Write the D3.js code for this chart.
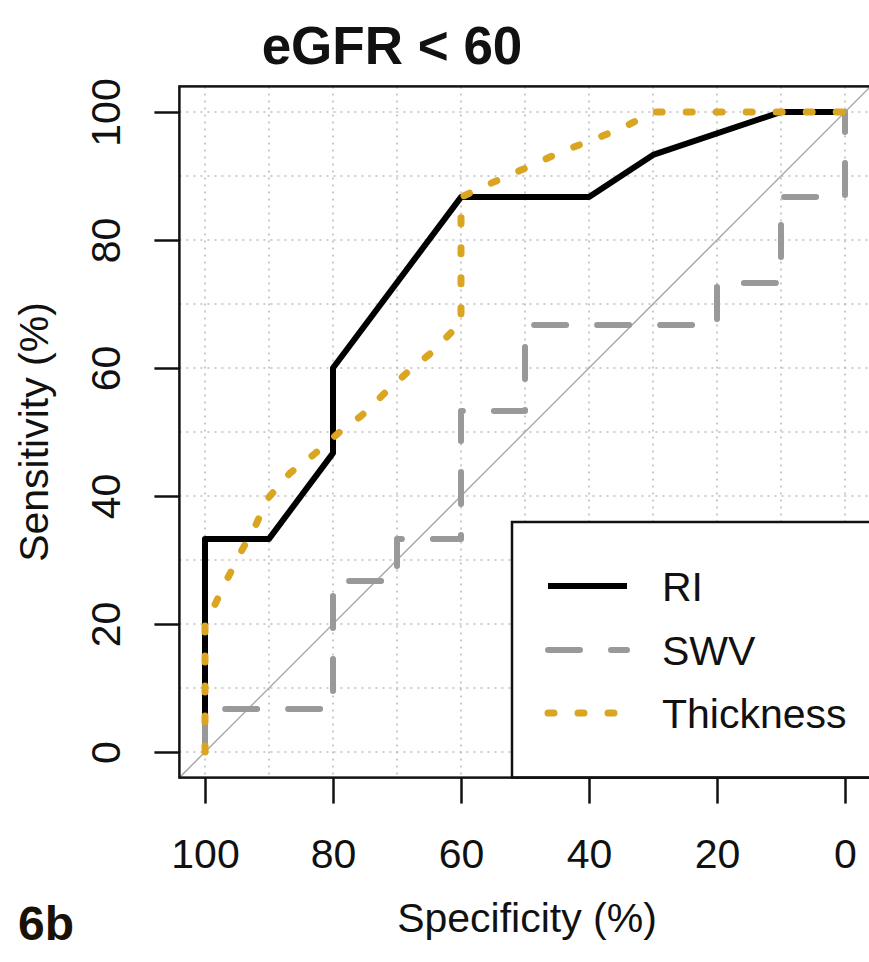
<!DOCTYPE html>
<html>
<head>
<meta charset="utf-8">
<script src="https://cdn.jsdelivr.net/npm/d3@7"></script>
<style>
  body { margin: 0; background: #fff; }
  svg { display: block; font-family: "Liberation Sans", Arial, Helvetica, sans-serif; }
</style>
</head>
<body>
<svg id="chart" width="869" height="962"></svg>
<script>
// tick labels and grid positions
const specTicks = [100, 80, 60, 40, 20, 0];
const sensTicks = [0, 20, 40, 60, 80, 100];
const gridVals = [0, 10, 20, 30, 40, 50, 60, 70, 80, 90, 100];

// RI curve (specificity %, sensitivity %)
const riSpec = [100, 100, 90, 80, 80, 60, 40, 30, 10, 0];
const riSens = [0, 33.3, 33.3, 46.7, 60, 86.7, 86.7, 93.3, 100, 100];

// SWV curve
const swvSpec = [100, 100, 80, 80, 70, 70, 60, 60, 50, 50, 20, 20, 10, 10, 0, 0];
const swvSens = [0, 6.7, 6.7, 26.7, 26.7, 33.3, 33.3, 53.3, 53.3, 66.7, 66.7, 73.3, 73.3, 86.7, 86.7, 100];

// Thickness curve
const thkSpec = [100, 100, 98.7, 96.6, 94.3, 92, 90.2, 86.7, 83.1, 79.2, 75.5, 71.9, 68.3, 64.5, 61.2, 60, 60, 55, 50, 43.8, 39, 34.4, 30, 0];
const thkSens = [0, 20, 22.5, 26.9, 31.4, 35.6, 39.6, 43.6, 46.4, 49.8, 52.6, 56.1, 59.4, 62.5, 65.9, 66.7, 86.7, 89, 91.2, 94, 95.8, 97.7, 100, 100];

const seriesNames = ["RI", "SWV", "Thickness"];

const svg = d3.select("#chart");

// scales, R-style 4% padding on each side
const x = d3.scaleLinear().domain([104, -4]).range([179.4, 870.6]);
const y = d3.scaleLinear().domain([-4, 104]).range([777.6, 86.4]);

const styles = {
    RI: { color: "#000", width: 6, dash: null },
    SWV: { color: "#999", width: 6, dash: "32,31" },
    Thickness: { color: "#DAA520", width: 7, dash: "6,24" }
};

// grid
const grid = svg.append("g").attr("class", "grid")
    .attr("stroke", "#bdbdbd").attr("stroke-width", 1.6).attr("stroke-dasharray", "2,5");
grid.selectAll("line.v").data(gridVals).enter().append("line")
    .attr("class", "v")
    .attr("x1", d => x(d)).attr("x2", d => x(d))
    .attr("y1", y(104)).attr("y2", y(-4));
grid.selectAll("line.h").data(gridVals).enter().append("line")
    .attr("class", "h")
    .attr("y1", d => y(d)).attr("y2", d => y(d))
    .attr("x1", x(104)).attr("x2", x(-4));

// chance diagonal
svg.append("line")
    .attr("x1", x(104)).attr("y1", y(-4))
    .attr("x2", x(-4)).attr("y2", y(104))
    .attr("stroke", "#aaa").attr("stroke-width", 1.5);

const line = d3.line().x(d => x(d[0])).y(d => y(d[1]));

function drawCurve(name, spec, sens) {
    const s = styles[name];
    svg.append("path")
        .datum(d3.zip(spec, sens))
        .attr("class", `curve-${name}`)
        .attr("d", line)
        .attr("fill", "none")
        .attr("stroke", s.color)
        .attr("stroke-width", s.width)
        .attr("stroke-linecap", s.dash ? "round" : "butt")
        .attr("stroke-linejoin", "round")
        .attr("stroke-dasharray", s.dash);
}
drawCurve("RI", riSpec, riSens);
drawCurve("SWV", swvSpec, swvSens);
drawCurve("Thickness", thkSpec, thkSens);

// axes
const xAxis = svg.append("g")
    .attr("transform", `translate(0,${y(-4)})`)
    .call(d3.axisBottom(x).tickValues(specTicks).tickSize(26));
xAxis.select(".domain").remove();
xAxis.selectAll(".tick line").attr("stroke", "#111").attr("stroke-width", 2.5);
xAxis.selectAll(".tick text")
    .attr("y", 868 - y(-4)).attr("dy", 0)
    .attr("fill", "#111").attr("font-size", 41)
    .attr("font-family", "Liberation Sans, Arial, sans-serif");

const yAxis = svg.append("g")
    .attr("transform", `translate(${x(104)},0)`)
    .call(d3.axisLeft(y).tickValues(sensTicks).tickSize(25));
yAxis.select(".domain").remove();
yAxis.selectAll(".tick line").attr("stroke", "#111").attr("stroke-width", 2.5);
yAxis.selectAll(".tick text")
    .attr("x", 0).attr("dy", 0)
    .attr("text-anchor", "middle")
    .attr("transform", `translate(${120 - x(104)},0) rotate(-90)`)
    .attr("fill", "#111").attr("font-size", 41)
    .attr("font-family", "Liberation Sans, Arial, sans-serif");

// legend
const lg = svg.append("g").attr("class", "legend");
lg.append("rect")
    .attr("x", 512).attr("y", 522)
    .attr("width", 380).attr("height", y(-4) - 522)
    .attr("fill", "#fff").attr("stroke", "#111").attr("stroke-width", 2.5);
const rowY = [586, 650, 713];
seriesNames.forEach((name, i) => {
    const s = styles[name];
    lg.append("line")
        .attr("x1", 548).attr("x2", 627)
        .attr("y1", rowY[i]).attr("y2", rowY[i])
        .attr("stroke", s.color).attr("stroke-width", s.width)
        .attr("stroke-linecap", s.dash ? "round" : "butt")
        .attr("stroke-dasharray", s.dash);
    lg.append("text")
        .attr("x", 662).attr("y", rowY[i] + 15)
        .attr("font-size", 41).attr("fill", "#111")
        .text(name);
});

// plot box
svg.append("rect")
    .attr("x", x(104)).attr("y", y(104))
    .attr("width", x(-4) - x(104)).attr("height", y(-4) - y(104))
    .attr("fill", "none").attr("stroke", "#111").attr("stroke-width", 2.5);

// titles
svg.append("text")
    .attr("x", 392).attr("y", 64)
    .attr("text-anchor", "middle")
    .attr("font-size", 53).attr("font-weight", "bold").attr("fill", "#111")
    .text("eGFR < 60");

svg.append("text")
    .attr("x", 527).attr("y", 932)
    .attr("text-anchor", "middle")
    .attr("font-size", 41).attr("fill", "#111")
    .text("Specificity (%)");

svg.append("text")
    .attr("transform", `translate(48,${y(50)}) rotate(-90)`)
    .attr("text-anchor", "middle")
    .attr("font-size", 41).attr("fill", "#111")
    .text("Sensitivity (%)");

svg.append("text")
    .attr("x", 18).attr("y", 940)
    .attr("font-size", 48).attr("font-weight", "bold").attr("fill", "#1a1206")
    .text("6b");
</script>
</body>
</html>
